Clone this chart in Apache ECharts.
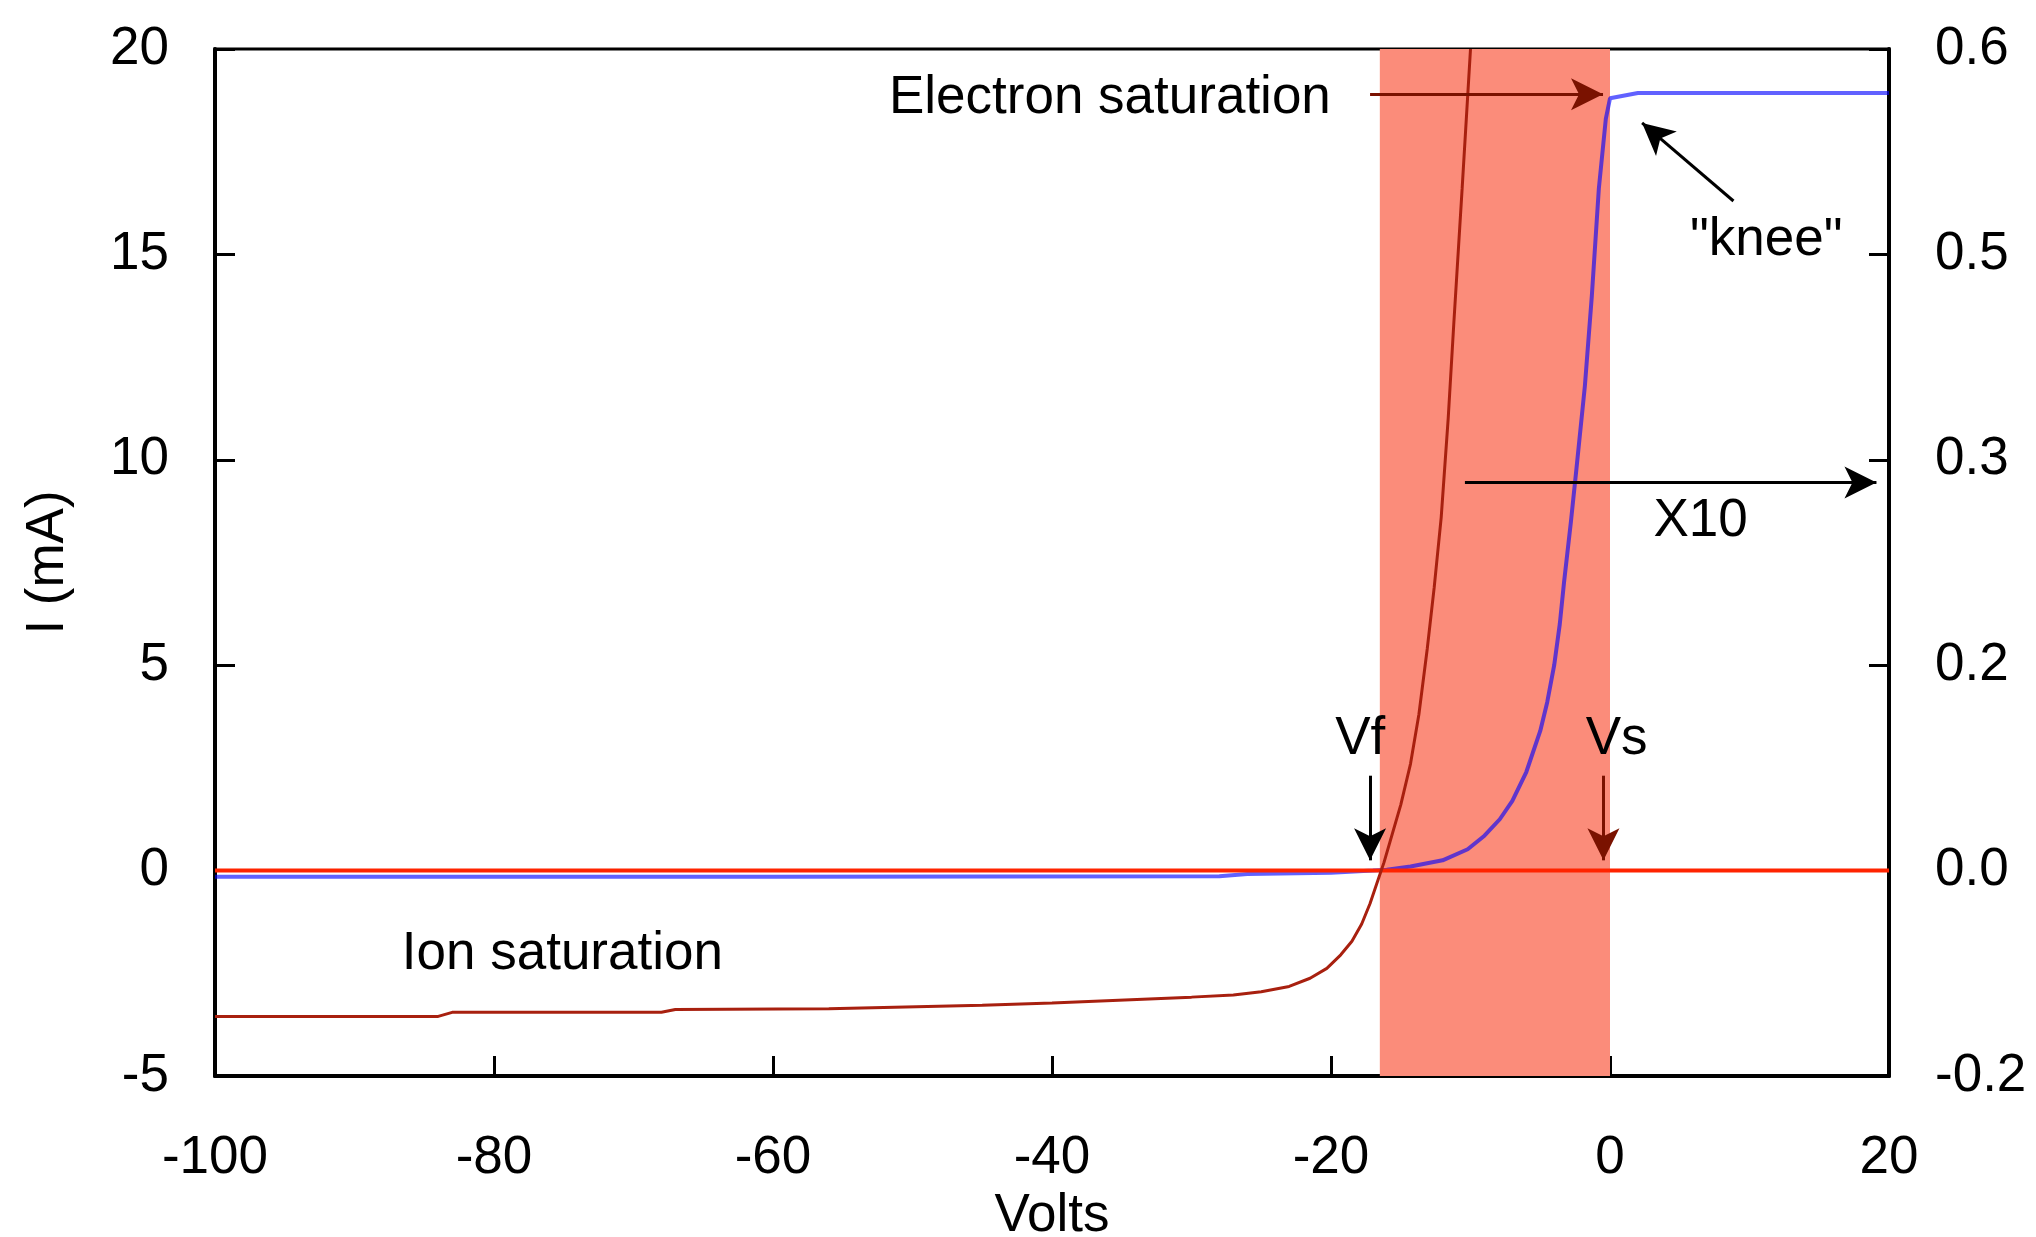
<!DOCTYPE html>
<html>
<head>
<meta charset="utf-8">
<script src="https://cdn.jsdelivr.net/npm/echarts@6/dist/echarts.min.js"></script>
<style>
  html, body { margin: 0; padding: 0; background: #fff; }
  #main { width: 2036px; height: 1237px; }
</style>
</head>
<body>
<div id="main"></div>
<script>
// probe current (mA) vs bias voltage
const volts = [-100, 20];
const leftLabels = ['-5', '0', '5', '10', '15', '20'];
const rightLabels = ['-0.2', '0.0', '0.2', '0.3', '0.5', '0.6'];

// zero line
const zeroLine = [[-100, 0], [20, 0]];

// total probe current, mA
const probeCurrent = [
  [-100, -3.55], [-84, -3.55], [-83, -3.45], [-68, -3.45], [-67, -3.38],
  [-56, -3.36], [-45, -3.28], [-40, -3.22], [-30, -3.08], [-27, -3.03],
  [-25, -2.95], [-23, -2.82], [-21.5, -2.62], [-20.3, -2.38], [-19.3, -2.05],
  [-18.5, -1.72], [-17.8, -1.3], [-17.2, -0.8], [-16.6, -0.2], [-16.2, 0.2],
  [-15.6, 0.9], [-15, 1.6], [-14.3, 2.6], [-13.7, 3.8], [-13.1, 5.4],
  [-12.6, 6.9], [-12.1, 8.6], [-11.6, 11], [-11.2, 13.3], [-10.6, 16.6], [-10, 20]
];

// electron current x10 (plotted on same scale)
const electronX10 = [
  [-100, -0.15], [-60, -0.15], [-28, -0.14], [-26, -0.08], [-20, -0.05],
  [-17, 0], [-16, 0.02], [-14.3, 0.1], [-12, 0.25], [-10.2, 0.52],
  [-9, 0.85], [-7.9, 1.25], [-7, 1.7], [-6, 2.4], [-5, 3.4], [-4.5, 4.1],
  [-4, 5.0], [-3.6, 6.0], [-3.3, 7.0], [-2.8, 8.5], [-2.4, 9.8], [-1.8, 11.8],
  [-1.3, 14], [-0.8, 16.6], [-0.3, 18.3], [0, 18.8], [2, 18.93], [20, 18.93]
];

// shaded transition region, V
const transition = [-16.5, 0];

const chart = echarts.init(document.getElementById('main'));
const font = 'Liberation Sans, Arial, sans-serif';
const fs = 53;

function txt(text, x, y) {
  return {
    coord: [x, y],
    symbol: 'circle',
    symbolSize: 1,
    itemStyle: { color: 'rgba(0,0,0,0)' },
    label: { show: true, position: 'inside', formatter: text, color: '#000', fontSize: fs, fontFamily: font }
  };
}
function arrow(x1, y1, x2, y2, color) {
  return [
    { coord: [x1, y1], lineStyle: { color: color, width: 3, type: 'solid' } },
    { coord: [x2, y2] }
  ];
}

const tick = { inside: true, length: 20, lineStyle: { color: '#000', width: 3 } };

const option = {
  animation: false,
  backgroundColor: '#fff',
  grid: {
    left: 215, right: 147, top: 49, bottom: 161,
    outerBoundsMode: 'none',
    show: true, borderColor: '#000', borderWidth: 3
  },
  xAxis: {
    type: 'value',
    min: volts[0], max: volts[1], interval: 20,
    name: 'Volts', nameLocation: 'middle', nameGap: 112,
    nameTextStyle: { fontSize: fs, fontFamily: font, color: '#000' },
    axisLine: { onZero: false, lineStyle: { color: '#000', width: 4 } },
    axisTick: tick,
    axisLabel: { fontSize: fs, fontFamily: font, color: '#000', margin: 56 },
    splitLine: { show: false }
  },
  yAxis: [{
    type: 'value',
    min: -5, max: 20, interval: 5,
    name: 'I (mA)', nameLocation: 'middle', nameGap: 140, nameRotate: 90,
    nameTextStyle: { fontSize: fs, fontFamily: font, color: '#000' },
    axisLine: { show: true, onZero: false, lineStyle: { color: '#000', width: 4 } },
    axisTick: tick,
    axisLabel: {
      fontSize: fs, fontFamily: font, color: '#000', margin: 46,
      formatter: v => leftLabels[Math.round((v + 5) / 5)]
    },
    splitLine: { show: false }
  }, {
    type: 'value',
    min: -5, max: 20, interval: 5,
    position: 'right',
    axisLine: { show: true, onZero: false, lineStyle: { color: '#000', width: 4 } },
    axisTick: tick,
    axisLabel: {
      fontSize: fs, fontFamily: font, color: '#000', margin: 46,
      formatter: v => rightLabels[Math.round((v + 5) / 5)]
    },
    splitLine: { show: false }
  }],
  series: [{
    name: 'shade',
    type: 'line',
    data: [],
    z: 1,
    markArea: {
      silent: true,
      itemStyle: { color: '#fb8c7a' },
      data: [[{ xAxis: transition[0] }, { xAxis: transition[1] }]]
    }
  }, {
    name: 'electron x10',
    type: 'line',
    data: electronX10,
    showSymbol: false,
    z: 3,
    lineStyle: { color: 'rgba(0,0,255,0.62)', width: 4 }
  }, {
    name: 'zero',
    type: 'line',
    data: zeroLine,
    showSymbol: false,
    clip: false,
    z: 4,
    lineStyle: { color: '#ff2400', width: 4 }
  }, {
    name: 'probe',
    type: 'line',
    data: probeCurrent,
    showSymbol: false,
    z: 4,
    lineStyle: { color: '#a8200f', width: 3 }
  }, {
    name: 'notes',
    type: 'line',
    data: [],
    z: 6,
    markLine: {
      silent: true,
      symbol: ['none', 'arrow'],
      symbolSize: [24, 32],
      label: { show: false },
      data: [
        arrow(-17.2, 18.9, -0.5, 18.9, '#7a1200'),
        arrow(8.85, 16.3, 2.3, 18.2, '#000'),
        arrow(-10.4, 9.45, 19.1, 9.45, '#000'),
        arrow(-17.2, 2.31, -17.2, 0.25, '#000'),
        arrow(-0.47, 2.31, -0.47, 0.25, '#7a1200')
      ]
    },
    markPoint: {
      silent: true,
      data: [
        txt('Electron saturation', -35.85, 18.8),
        txt('"knee"', 11.2, 15.35),
        txt('X10', 6.5, 8.5),
        txt('Vf', -17.9, 3.2),
        txt('Vs', 0.47, 3.2),
        txt('Ion saturation', -75.1, -2.05)
      ]
    }
  }]
};
chart.setOption(option);
</script>
</body>
</html>
